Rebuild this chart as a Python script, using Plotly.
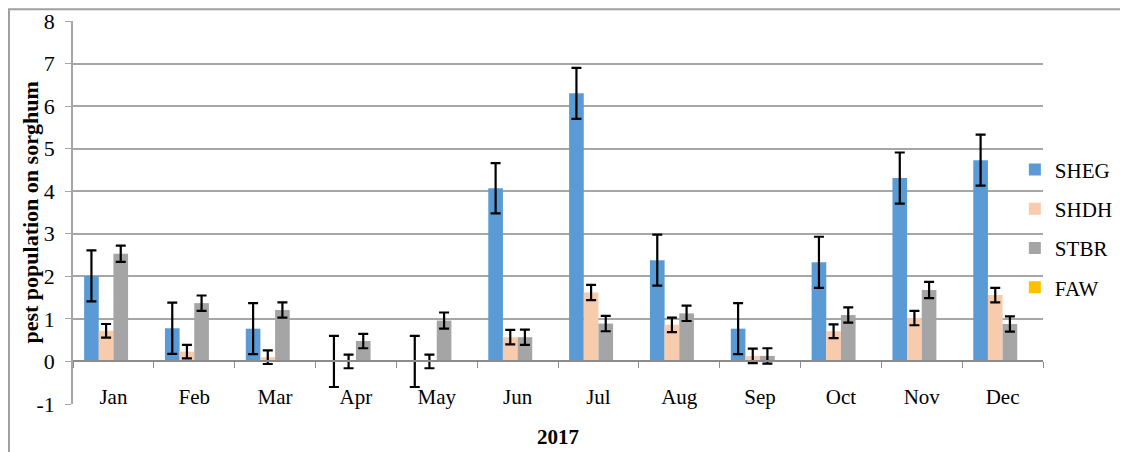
import plotly.graph_objects as go

months = ["Jan", "Feb", "Mar", "Apr", "May", "Jun", "Jul", "Aug", "Sep", "Oct", "Nov", "Dec"]
sheg = [2.01, 0.78, 0.77, 0.0, 0.0, 4.07, 6.30, 2.38, 0.77, 2.33, 4.31, 4.73]
sheg_err = [0.6, 0.6, 0.6, 0.6, 0.6, 0.59, 0.6, 0.6, 0.6, 0.6, 0.6, 0.6]
shdh = [0.72, 0.23, 0.10, 0.0, 0.0, 0.57, 1.62, 0.86, 0.13, 0.71, 1.02, 1.56]
shdh_err = [0.16, 0.16, 0.16, 0.16, 0.16, 0.17, 0.18, 0.17, 0.17, 0.16, 0.17, 0.17]
stbr = [2.53, 1.37, 1.21, 0.48, 0.96, 0.57, 0.89, 1.13, 0.13, 1.09, 1.68, 0.88]
stbr_err = [0.19, 0.18, 0.18, 0.17, 0.19, 0.18, 0.18, 0.18, 0.18, 0.18, 0.19, 0.18]
faw = [0, 0, 0, 0, 0, 0, 0, 0, 0, 0, 0, 0]

y_tick_vals = [-1, 0, 1, 2, 3, 4, 5, 6, 7, 8]
y_tick_text = ["-1", "0", "1", "2", "3", "4", "5", "6", "7", "8"]

series_names = ["SHEG", "SHDH", "STBR", "FAW"]
colors = ["#5B9BD5", "#F8CBAD", "#A5A5A5", "#FFC000"]

FONT = "Times New Roman, Liberation Serif, serif"

fig = go.Figure()
data = [(sheg, sheg_err), (shdh, shdh_err), (stbr, stbr_err), (faw, None)]
for name, col, (vals, err) in zip(series_names, colors, data):
    kw = {}
    if err is not None:
        kw["error_y"] = dict(type="data", array=err, visible=True,
                             color="black", thickness=2.2, width=5)
    fig.add_trace(go.Bar(x=months, y=vals, name=name, legendgroup=name,
                         marker=dict(color=col, line=dict(width=0)), **kw))

grid = "#A6A6A6"
fig.update_layout(
    width=1128, height=452,
    margin=dict(l=65, r=93, t=13, b=56, autoexpand=False),
    paper_bgcolor="white", plot_bgcolor="white",
    barmode="group", bargap=0.275, bargroupgap=0,
    font=dict(family=FONT, size=21, color="black"),
    showlegend=True,
    legend=dict(x=0.971, xanchor="left", y=0.665, yanchor="top",
                font=dict(family=FONT, size=21), tracegroupgap=9,
                bgcolor="rgba(0,0,0,0)"),
    xaxis=dict(type="category", range=[-0.5, 11.5], anchor="free", position=1/9,
               automargin=False,
               showline=True, linecolor="#8C8C8C", linewidth=2,
               ticks="outside", tickson="boundaries", ticklen=6, tickcolor="#8C8C8C",
               tickwidth=1, showgrid=False, ticklabelstandoff=16,
               tickfont=dict(family=FONT, size=21)),
    yaxis=dict(range=[-1, 8], tickmode="array", tickvals=y_tick_vals, ticktext=y_tick_text,
               showgrid=True, gridcolor=grid, gridwidth=1.5,
               automargin=False,
               zeroline=False, showline=True, linecolor="#A6A6A6", linewidth=1.5,
               ticks="outside", ticklen=6, tickcolor="#A6A6A6", ticklabelstandoff=6,
               tickfont=dict(family=FONT, size=22)),
    annotations=[
        dict(text="<b>2017</b>", xref="paper", yref="paper", x=0.5, y=-0.086,
             xanchor="center", yanchor="middle", showarrow=False,
             font=dict(family=FONT, size=21)),
        dict(text="<b>pest population on sorghum</b>", xref="paper", yref="paper",
             x=-0.0443, y=0.5, xanchor="center", yanchor="middle", textangle=-90,
             showarrow=False, font=dict(family=FONT, size=22)),
    ],
    shapes=[dict(type="rect", xref="paper", yref="paper",
                 x0=-0.066, x1=1.3, y0=-0.5, y1=1.031,
                 line=dict(color="#A0A0A0", width=2), layer="below")],
)

fig.write_html("out.html")
